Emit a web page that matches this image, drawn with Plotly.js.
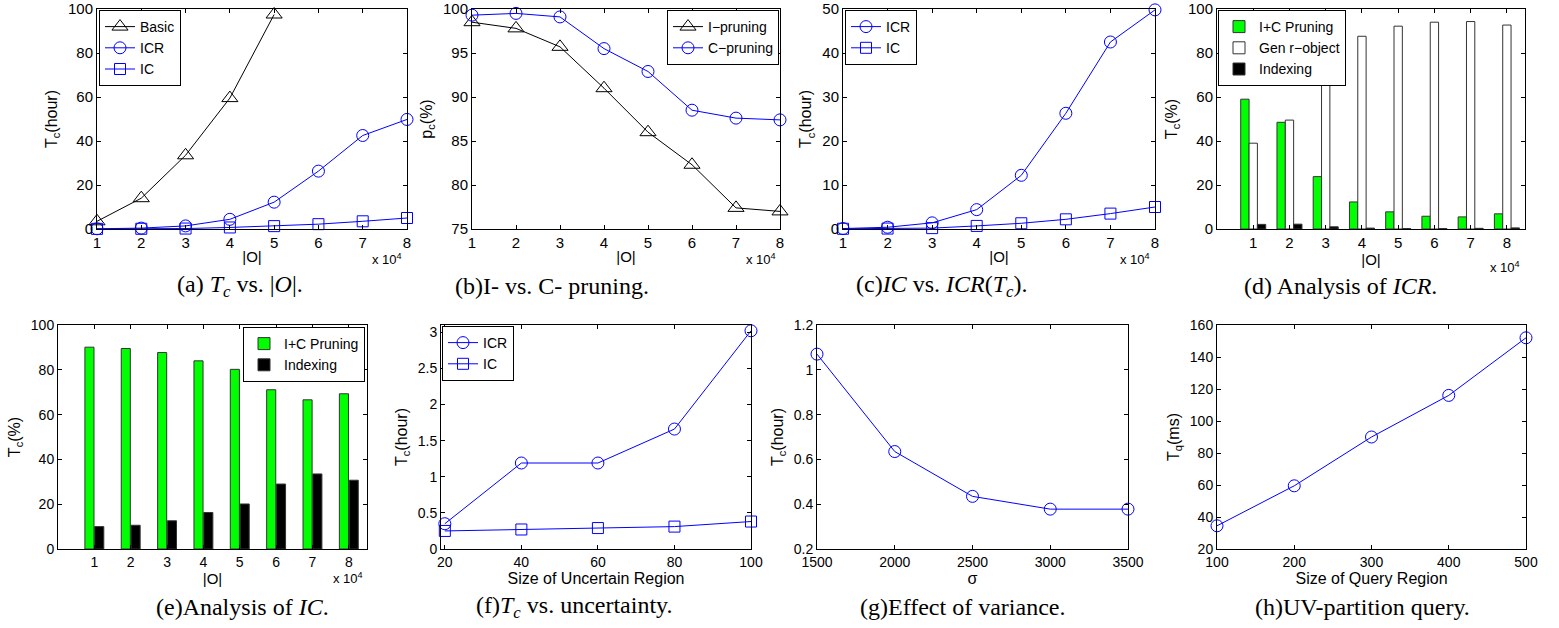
<!DOCTYPE html>
<html><head><meta charset="utf-8">
<script src="https://cdn.plot.ly/plotly-3.0.1.min.js"></script>
<style>html,body{margin:0;padding:0;background:#fff}#chart{width:1559px;height:628px}</style>
</head><body><div id="chart"></div>
<script>
// ---------- data ----------
const sizeO = [1,2,3,4,5,6,7,8];
const basicX = [1,2,3,4,5];
const basicTc = [3.5,14,33.5,59.5,97.5];
const icrTc = [0.1,0.4,1.4,4.4,12.2,26.3,42.5,49.8];
const icTc = [0.05,0.1,0.2,0.7,1.3,2.2,3.5,5.0];
const iPruning = [98.5,97.8,95.7,91.0,86.0,82.3,77.4,77.0];
const cPruning = [99.3,99.5,99.1,95.5,92.9,88.5,87.6,87.4];
const icrPruneShare = [59,48.5,23.8,12.3,7.8,5.8,5.5,6.9];
const icrGenShare = [39,49.5,75.6,87.6,92.2,94,94.3,92.7];
const icrIndexShare = [2.1,2.2,1.0,0.4,0.2,0.2,0.3,0.5];
const icPruneShare = [90.1,89.5,87.7,84,80.2,71.1,66.6,69.3];
const icIndexShare = [10,10.6,12.6,16.3,20.1,29,33.5,30.7];
const regionSize = [20,40,60,80,100];
const icrRegion = [0.35,1.19,1.19,1.66,3.02];
const icRegion = [0.25,0.27,0.29,0.31,0.38];
const sigma = [1500,2000,2500,3000,3500];
const icrSigma = [1.07,0.635,0.435,0.378,0.378];
const querySize = [100,200,300,400,500];
const queryTq = [34.5,59.5,90,116,152];

// ---------- helpers ----------
const W = 1559, H = 628;
const px = v => v / W;
const py = v => 1 - v / H;
const SANS = '"Liberation Sans", Arial, Helvetica, sans-serif';
const SERIF = '"Liberation Serif", "Times New Roman", serif';
const BLUE = '#0000ff';

function xa(n, l, r, range, extra, titleText, tfs, fs) {
  return Object.assign({
    anchor: 'y' + (n === 1 ? '' : n),
    domain: [px(l), px(r)], range: range, showline: true, mirror: 'ticks', linecolor: '#000', linewidth: 1,
    ticks: 'inside', ticklen: 4, tickcolor: '#000', showgrid: false, zeroline: false,
    ticklabeloverflow: 'allow',
    tickfont: {family: SANS, size: fs, color: '#000'},
    title: {text: titleText, font: {family: SANS, size: tfs, color: '#000'}, standoff: 1}
  }, extra || {});
}
function ya(n, t, b, range, extra, titleText, tfs, fs) {
  return Object.assign({
    anchor: 'x' + (n === 1 ? '' : n),
    domain: [py(b), py(t)], range: range, showline: true, mirror: 'ticks', linecolor: '#000', linewidth: 1,
    ticks: 'inside', ticklen: 4, tickcolor: '#000', showgrid: false, zeroline: false,
    ticklabeloverflow: 'allow',
    tickfont: {family: SANS, size: fs, color: '#000'},
    title: {text: titleText, font: {family: SANS, size: tfs, color: '#000'}, standoff: 6}
  }, extra || {});
}
function lineTrace(x, y, name, color, symbol, size, axn, leg) {
  return {
    type: 'scatter', mode: 'lines+markers', x: x, y: y, name: name,
    line: {color: color, width: 1},
    marker: {symbol: symbol, size: size, color: color, line: {color: color, width: 1}},
    xaxis: 'x' + (axn === 1 ? '' : axn), yaxis: 'y' + (axn === 1 ? '' : axn),
    legend: leg || 'legend', showlegend: !!leg, cliponaxis: false
  };
}
function barTrace(x, y, name, fill, offset, width, axn, leg) {
  return {
    type: 'bar', x: x, y: y, name: name, offset: offset, width: width,
    marker: {color: fill, line: {color: '#333', width: 1}},
    xaxis: 'x' + axn, yaxis: 'y' + axn, legend: leg, showlegend: true
  };
}

const data = [
  // (a)
  lineTrace(basicX, basicTc, 'Basic', '#000', 'triangle-up-open', 14, 1, 'legend'),
  lineTrace(sizeO, icrTc, 'ICR', BLUE, 'circle-open', 12, 1, 'legend'),
  lineTrace(sizeO, icTc, 'IC', BLUE, 'square-open', 11, 1, 'legend'),
  // (b)
  lineTrace(sizeO, iPruning, 'I\u2212pruning', '#000', 'triangle-up-open', 14, 2, 'legend2'),
  lineTrace(sizeO, cPruning, 'C\u2212pruning', BLUE, 'circle-open', 12, 2, 'legend2'),
  // (c)
  lineTrace(sizeO, icrTc, 'ICR', BLUE, 'circle-open', 12, 3, 'legend3'),
  lineTrace(sizeO, icTc, 'IC', BLUE, 'square-open', 11, 3, 'legend3'),
  // (d)
  barTrace(sizeO, icrPruneShare, 'I+C Pruning', '#00ff00', -0.345, 0.23, 4, 'legend4'),
  barTrace(sizeO, icrGenShare, 'Gen r\u2212object', '#ffffff', -0.115, 0.23, 4, 'legend4'),
  barTrace(sizeO, icrIndexShare, 'Indexing', '#000000', 0.115, 0.23, 4, 'legend4'),
  // (e)
  barTrace(sizeO, icPruneShare, 'I+C Pruning', '#00ff00', -0.26, 0.25, 5, 'legend5'),
  barTrace(sizeO, icIndexShare, 'Indexing', '#000000', 0.01, 0.25, 5, 'legend5'),
  // (f)
  lineTrace(regionSize, icrRegion, 'ICR', BLUE, 'circle-open', 12, 6, 'legend6'),
  lineTrace(regionSize, icRegion, 'IC', BLUE, 'square-open', 11, 6, 'legend6'),
  // (g)
  lineTrace(sigma, icrSigma, 'ICR', BLUE, 'circle-open', 12, 7, null),
  // (h)
  lineTrace(querySize, queryTq, 'UV', BLUE, 'circle-open', 12, 8, null)
];

const TOP = [9, 229], BOT = [325, 549];
const legBase = {bgcolor: '#fff', bordercolor: '#000', borderwidth: 1, font: {family: SANS, size: 14, color: '#000'},
  itemwidth: 30, tracegroupgap: 0, xref: 'paper', yref: 'paper', yanchor: 'top'};
const leg = (x, y, xanchor) => Object.assign({}, legBase, {x: px(x), y: py(y), xanchor: xanchor});

const intTicks = {tickmode: 'array', tickvals: sizeO, ticktext: sizeO.map(String)};
const sup4 = 'x 10<sup>4</sup>';

const layout = {
  width: W, height: H, margin: {l: 0, r: 0, t: 0, b: 0}, paper_bgcolor: '#fff', plot_bgcolor: '#fff',
  barmode: 'group', font: {family: SANS, color: '#000'},
  xaxis: xa(1, 97, 407, [1, 8], intTicks, '|O|', 15, 15),
  yaxis: ya(1, TOP[0], TOP[1], [0, 100], {dtick: 20}, 'T<sub>c</sub>(hour)', 16, 15),
  xaxis2: xa(2, 472, 780, [1, 8], intTicks, '|O|', 15, 15),
  yaxis2: ya(2, TOP[0], TOP[1], [75, 100], {dtick: 5}, 'p<sub>c</sub>(%)', 16, 15),
  xaxis3: xa(3, 843, 1155, [1, 8], intTicks, '|O|', 15, 15),
  yaxis3: ya(3, TOP[0], TOP[1], [0, 50], {dtick: 10}, 'T<sub>c</sub>(hour)', 16, 15),
  xaxis4: xa(4, 1217, 1525, [0, 8.5], intTicks, '|O|', 15, 15),
  yaxis4: ya(4, TOP[0], TOP[1], [0, 100], {dtick: 20}, 'T<sub>c</sub>(%)', 16, 15),
  xaxis5: xa(5, 58, 367, [0, 8.5], intTicks, '|O|', 15, 14),
  yaxis5: ya(5, BOT[0], BOT[1], [0, 100], {dtick: 20}, 'T<sub>c</sub>(%)', 16, 14),
  xaxis6: xa(6, 441, 751, [19, 100], {tickvals: regionSize, tickmode: 'array'}, 'Size of Uncertain Region', 16, 14),
  yaxis6: ya(6, BOT[0], BOT[1], [0, 3.1], {tickvals: [0,0.5,1,1.5,2,2.5,3], tickmode: 'array'}, 'T<sub>c</sub>(hour)', 16, 14),
  xaxis7: xa(7, 817, 1128, [1500, 3500], {tickvals: sigma, tickmode: 'array'}, '\u03c3', 16, 14),
  yaxis7: ya(7, BOT[0], BOT[1], [0.2, 1.2], {tickvals: [0.2,0.4,0.6,0.8,1,1.2], tickmode: 'array'}, 'T<sub>c</sub>(hour)', 16, 14),
  xaxis8: xa(8, 1217, 1526, [100, 500], {tickvals: querySize, tickmode: 'array'}, 'Size of Query Region', 16, 14),
  yaxis8: ya(8, BOT[0], BOT[1], [20, 160], {dtick: 20}, 'T<sub>q</sub>(ms)', 16, 14),
  legend: leg(99, 10, 'left'),
  legend2: leg(779, 10, 'right'),
  legend3: leg(845, 10, 'left'),
  legend4: leg(1218, 10, 'left'),
  legend5: leg(365, 327, 'right'),
  legend6: leg(442, 326, 'left'),
  annotations: [
    ...[[404, 259], [778, 259], [1152, 259], [1522, 267], [365, 578]].map(p => ({
      xref: 'paper', yref: 'paper', x: px(p[0]), y: py(p[1]), xanchor: 'right', yanchor: 'middle',
      text: sup4, showarrow: false, font: {family: SANS, size: 13, color: '#000'}
    })),
    ...[
      [240, 286, '(a) <i>T<sub>c</sub></i> vs. |<i>O</i>|.'],
      [552, 286, '(b)I- vs. C- pruning.'],
      [941, 286, '(c)<i>IC</i> vs. <i>ICR</i>(<i>T<sub>c</sub></i>).'],
      [1340, 286, '(d) Analysis of <i>ICR</i>.'],
      [243, 607, '(e)Analysis of <i>IC</i>.'],
      [574, 607, '(f)<i>T<sub>c</sub></i> vs. uncertainty.'],
      [962, 607, '(g)Effect of variance.'],
      [1362, 607, '(h)UV-partition query.']
    ].map(c => ({
      xref: 'paper', yref: 'paper', x: px(c[0]), y: py(c[1]), xanchor: 'center', yanchor: 'middle',
      text: c[2], showarrow: false, font: {family: SERIF, size: 24, color: '#000'}
    }))
  ]
};

Plotly.newPlot('chart', data, layout, {staticPlot: true, displayModeBar: false});
</script>
</body></html>
